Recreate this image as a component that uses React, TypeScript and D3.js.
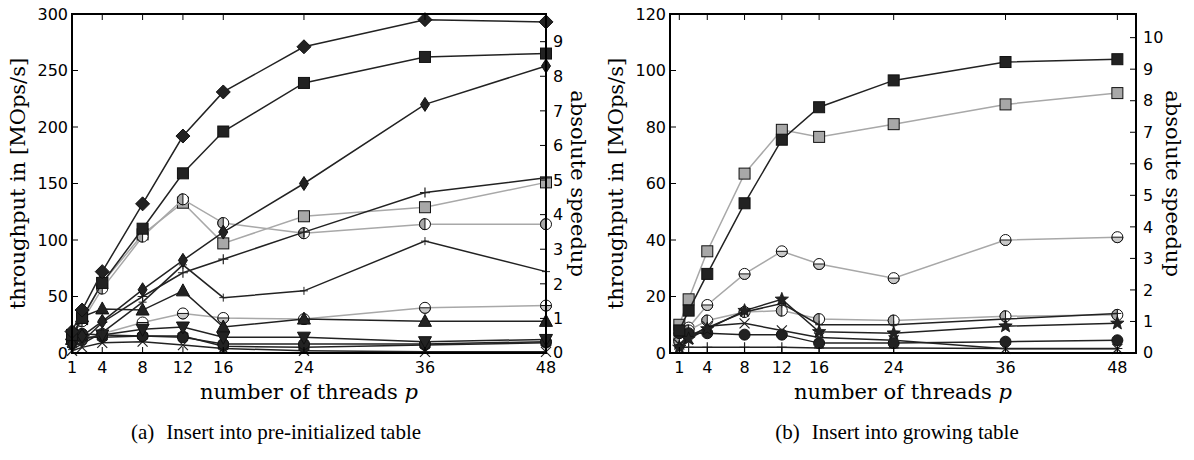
import React from "react";
import * as d3 from "d3";

// thread counts measured
const threads = [1, 2, 4, 8, 12, 16, 24, 36, 48];
const xTicks = [1, 4, 8, 12, 16, 24, 36, 48];

// (a) insert into pre-initialized table, MOps/s
const aBigDiamond = [19, 38, 72, 132, 192, 231, 271, 295, 293];
const aSquare = [16, 31, 62, 110, 159, 196, 239, 262, 265];
const aThinDiamond = [8, 15, 28, 56, 82, 107, 150, 220, 254];
const aPlus = [5, 10, 27, 50, 71, 83, 107, 142, 155];
const aGraySquare = [15, 30, 62, 105, 133, 97, 121, 129, 151];
const aCircleV = [16, 28, 57, 103, 136, 115, 106, 114, 114];
const aSmallPlus = [3, 8, 18, 45, 78, 49, 55, 99, 72];
const aTriUp = [12, 32, 39, 38, 55, 23, 30, 28, 28];
const aCircleH = [10, 12, 17, 27, 35, 31, 30, 40, 42];
const aTriDown = [8, 12, 16, 21, 23, 14, 14, 10, 12];
const aCircle = [17, 17, 16, 15, 14, 8, 8, 8, 10];
const aHex = [12, 14, 14, 15, 15, 6, 5, 7, 9];
const aCross = [2, 5, 9, 10, 7, 4, 2, 1, 1];

// (b) insert into growing table, MOps/s
const bSquare = [8, 15, 28, 53, 75.5, 87, 96.5, 103, 104];
const bGraySquare = [10, 19, 36, 63.5, 79, 76.5, 81, 88, 92];
const bCircleH = [5, 9, 17, 28, 36, 31.5, 26.5, 40, 41];
const bCircleV = [4, 8, 11.5, 14.5, 15, 12, 11.5, 13, 13.5];
const bStar = [2, 5, 8.5, 15, 19, 7.5, 7, 9.5, 10.5];
const bThin = [3, 6, 9, 14.5, 17.5, 10, 10, 12, 14];
const bCross = [3, 5, 9.5, 10.5, 8, 5.5, 4.5, 1.5, 1.5];
const bCircle = [7, 7, 7, 6.5, 6.5, 3.5, 3.5, 4, 4.5];
const bPlus = [2, 2, 2, 2, 2, 1.8, 1.8, 1.6, 1.6];

const aYTicks = [0, 50, 100, 150, 200, 250, 300];
const aRTicks = [0, 1, 2, 3, 4, 5, 6, 7, 8, 9];
const bYTicks = [0, 20, 40, 60, 80, 100, 120];
const bRTicks = [0, 1, 2, 3, 4, 5, 6, 7, 8, 9, 10];

const DARK = "#222";
const GRAY = "#a8a8a8";
const EDGE = "#111";

type S = { values: number[]; marker: string; gray?: boolean };

const seriesA: S[] = [
  { values: aCircleH, marker: "oH", gray: true },
  { values: aGraySquare, marker: "s", gray: true },
  { values: aCircleV, marker: "oV", gray: true },
  { values: aCross, marker: "x" },
  { values: aHex, marker: "h" },
  { values: aCircle, marker: "o" },
  { values: aTriDown, marker: "v" },
  { values: aTriUp, marker: "^" },
  { values: aSmallPlus, marker: "+s" },
  { values: aPlus, marker: "+" },
  { values: aThinDiamond, marker: "d" },
  { values: aSquare, marker: "s" },
  { values: aBigDiamond, marker: "D" },
];

const seriesB: S[] = [
  { values: bGraySquare, marker: "s", gray: true },
  { values: bCircleH, marker: "oH", gray: true },
  { values: bCircleV, marker: "oV", gray: true },
  { values: bPlus, marker: "+" },
  { values: bCircle, marker: "o" },
  { values: bCross, marker: "x" },
  { values: bThin, marker: "+s" },
  { values: bStar, marker: "*" },
  { values: bSquare, marker: "s" },
];

function Marker({ kind, x, y, gray }: { kind: string; x: number; y: number; gray?: boolean }) {
  const fill = gray ? GRAY : DARK;
  switch (kind) {
    case "D":
      return <path d={`M${x},${y - 7}L${x + 7},${y}L${x},${y + 7}L${x - 7},${y}Z`} fill={fill} stroke={EDGE} />;
    case "d":
      return <path d={`M${x},${y - 7}L${x + 4.5},${y}L${x},${y + 7}L${x - 4.5},${y}Z`} fill={fill} stroke={EDGE} />;
    case "s":
      return <rect x={x - 5.5} y={y - 5.5} width={11} height={11} fill={fill} stroke={EDGE} />;
    case "^":
      return <path d={`M${x},${y - 7}L${x + 6.5},${y + 5}L${x - 6.5},${y + 5}Z`} fill={fill} stroke={EDGE} />;
    case "v":
      return <path d={`M${x},${y + 7}L${x + 6.5},${y - 5}L${x - 6.5},${y - 5}Z`} fill={fill} stroke={EDGE} />;
    case "o":
      return <circle cx={x} cy={y} r={5.5} fill={fill} stroke={EDGE} />;
    case "h": {
      const pts = d3.range(6).map((i) => {
        const a = (Math.PI / 3) * i + Math.PI / 6;
        return `${x + 5.8 * Math.cos(a)},${y + 5.8 * Math.sin(a)}`;
      });
      return <polygon points={pts.join(" ")} fill={fill} stroke={EDGE} />;
    }
    case "oV":
      return (
        <g stroke={EDGE}>
          <circle cx={x} cy={y} r={5.5} fill="#fff" />
          <path d={`M${x},${y - 5.5}A5.5,5.5 0 0 0 ${x},${y + 5.5}Z`} fill={GRAY} />
        </g>
      );
    case "oH":
      return (
        <g stroke={EDGE}>
          <circle cx={x} cy={y} r={5.5} fill="#fff" />
          <path d={`M${x - 5.5},${y}A5.5,5.5 0 0 0 ${x + 5.5},${y}Z`} fill={gray ? "#c8c8c8" : GRAY} />
        </g>
      );
    case "+":
      return <path d={`M${x - 5},${y}H${x + 5}M${x},${y - 5}V${y + 5}`} stroke={fill} strokeWidth={1.2} />;
    case "+s":
      return <path d={`M${x - 4},${y}H${x + 4}M${x},${y - 4}V${y + 4}`} stroke={fill} strokeWidth={1} />;
    case "x":
      return <path d={`M${x - 5},${y - 5}L${x + 5},${y + 5}M${x - 5},${y + 5}L${x + 5},${y - 5}`} stroke={fill} strokeWidth={1.2} />;
    case "*": {
      const pts = d3.range(10).map((i) => {
        const a = (Math.PI / 5) * i - Math.PI / 2;
        const rr = i % 2 === 0 ? 7 : 3;
        return `${x + rr * Math.cos(a)},${y + rr * Math.sin(a)}`;
      });
      return <polygon points={pts.join(" ")} fill={fill} stroke={EDGE} strokeWidth={0.8} />;
    }
    default:
      return null;
  }
}

type PanelProps = {
  left: number;
  right: number;
  top: number;
  bottom: number;
  xDomain: [number, number];
  yMax: number;
  yTicks: number[];
  rMax: number;
  rTicks: number[];
  series: S[];
  leftLabelX: number;
  rightLabelX: number;
  caption: string;
  tag: string;
  captionX: number;
};

function Panel(p: PanelProps) {
  const x = d3.scaleLinear().domain(p.xDomain).range([p.left, p.right]);
  const y = d3.scaleLinear().domain([0, p.yMax]).range([p.bottom, p.top]);
  const r = d3.scaleLinear().domain([0, p.rMax]).range([p.bottom, p.top]);
  const line = d3
    .line<number>()
    .x((_, i) => x(threads[i]))
    .y((d) => y(d));
  const midX = (p.left + p.right) / 2;
  const midY = (p.top + p.bottom) / 2;
  const tickFont = { fontFamily: "DejaVu Sans", fontSize: 16 };

  return (
    <g>
      {p.series.map((s, k) => (
        <g key={k}>
          <path d={line(s.values) || ""} fill="none" stroke={s.gray ? GRAY : DARK} strokeWidth={1.5} />
          {s.values.map((v, i) => (
            <Marker key={i} kind={s.marker} x={x(threads[i])} y={y(v)} gray={s.gray} />
          ))}
        </g>
      ))}

      {/* ticks, all pointing inward */}
      {xTicks.map((t) => (
        <g key={t} stroke="#000" strokeWidth={1}>
          <line x1={x(t)} x2={x(t)} y1={p.bottom} y2={p.bottom - 6} />
          <line x1={x(t)} x2={x(t)} y1={p.top} y2={p.top + 6} />
        </g>
      ))}
      {p.yTicks.map((t) => (
        <line key={t} x1={p.left} x2={p.left + 6} y1={y(t)} y2={y(t)} stroke="#000" />
      ))}
      {p.rTicks.map((t) => (
        <line key={t} x1={p.right} x2={p.right - 6} y1={r(t)} y2={r(t)} stroke="#000" />
      ))}
      <rect x={p.left} y={p.top} width={p.right - p.left} height={p.bottom - p.top} fill="none" stroke="#000" strokeWidth={2} />

      {xTicks.map((t) => (
        <text key={t} x={x(t)} y={p.bottom + 20} textAnchor="middle" {...tickFont}>
          {t}
        </text>
      ))}
      {p.yTicks.map((t) => (
        <text key={t} x={p.left - 4} y={y(t)} dy="0.36em" textAnchor="end" {...tickFont}>
          {t}
        </text>
      ))}
      {p.rTicks.map((t) => (
        <text key={t} x={p.right + 7} y={r(t) - (t === 0 ? 1 : 0)} dy="0.36em" textAnchor="start" {...tickFont}>
          {t}
        </text>
      ))}

      <text
        transform={`translate(${p.leftLabelX},${midY}) rotate(-90)`}
        textAnchor="middle"
        dy="0.35em"
        fontFamily="DejaVu Serif"
        fontSize={21}
      >
        throughput in [MOps/s]
      </text>
      <text
        transform={`translate(${p.rightLabelX},${midY}) rotate(90)`}
        textAnchor="middle"
        dy="0.35em"
        fontFamily="DejaVu Serif"
        fontSize={21}
      >
        absolute speedup
      </text>
      <text x={midX} y={p.bottom + 46} textAnchor="middle" fontFamily="DejaVu Serif" fontSize={21}>
        number of threads <tspan fontStyle="italic">p</tspan>
      </text>
      <text x={p.captionX} y={p.bottom + 86} textAnchor="middle" fontFamily="Liberation Serif" fontSize={21}>
        {p.tag}
        <tspan dx={12}>{p.caption}</tspan>
      </text>
    </g>
  );
}

export default function App() {
  return (
    <svg width={1194} height={460} style={{ position: "absolute", left: 0, top: 0, background: "#fff" }}>
      <Panel
        left={72}
        right={546}
        top={14}
        bottom={353}
        xDomain={[1, 48]}
        yMax={300}
        yTicks={aYTicks}
        rMax={9.8}
        rTicks={aRTicks}
        series={seriesA}
        leftLabelX={18}
        rightLabelX={578}
        tag="(a)"
        caption="Insert into pre-initialized table"
        captionX={276}
      />
      <Panel
        left={670}
        right={1136}
        top={14}
        bottom={353}
        xDomain={[0, 50]}
        yMax={120}
        yTicks={bYTicks}
        rMax={10.75}
        rTicks={bRTicks}
        series={seriesB}
        leftLabelX={616}
        rightLabelX={1173}
        tag="(b)"
        caption="Insert into growing table"
        captionX={897}
      />
    </svg>
  );
}
